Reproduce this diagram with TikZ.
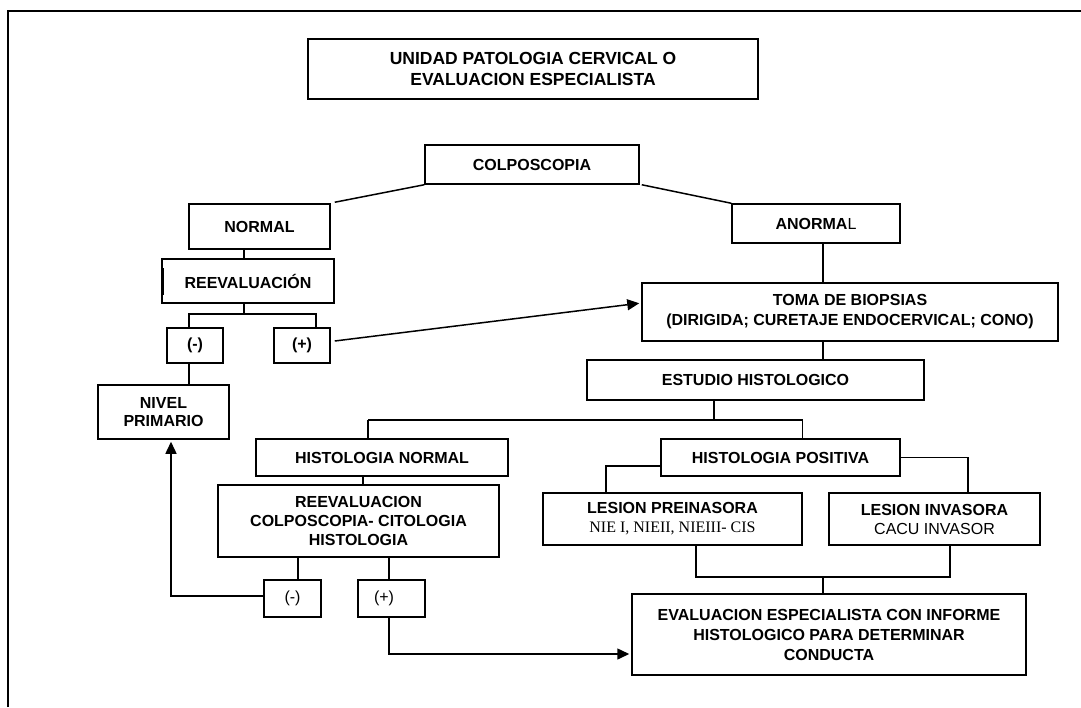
\documentclass[tikz,border=0pt]{standalone}
\usepackage{fontspec}
\setmainfont{Liberation Sans}
\newfontfamily\niefont{Liberation Serif}
\usetikzlibrary{arrows.meta}
\begin{document}
\begin{tikzpicture}[x=1pt,y=-1pt,
  box/.style={draw,line width=1.5pt,inner sep=0pt,align=center,
    font=\fontsize{16}{20}\selectfont\bfseries},
  conn/.style={line width=1.5pt},
  arr/.style={line width=1.5pt,-{Triangle[length=12pt,width=11pt]},shorten >=2pt}]
\useasboundingbox (0,0) rectangle (1081,707);
% frame
\draw[line width=1.5pt] (8,707) -- (8,11) -- (1081,11);

% nodes
\node[box,minimum width=450,minimum height=60,font=\fontsize{17.5}{21}\selectfont\bfseries] (title) at (533,69)
  {UNIDAD PATOLOGIA CERVICAL O\\EVALUACION ESPECIALISTA};
\node[box,minimum width=214,minimum height=39] (colp) at (532,164.5) {COLPOSCOPIA};
\node[box,minimum width=141,minimum height=45] (normal) at (259.5,226.5) {NORMAL};
\node[box,minimum width=168,minimum height=39] (anormal) at (816,223.5) {ANORMA\textmd{L}};
\node[box,minimum width=172,minimum height=44] (reeval) at (248,281) {REEVALUACIÓN};
\node[box,minimum width=56,minimum height=35] (minus1) at (195,345.5) {(-)};
\node[box,minimum width=56,minimum height=35] (plus1) at (302,345.5) {(+)};
\node[box,minimum width=131,minimum height=54,font=\fontsize{16}{18}\selectfont\bfseries] (nivel) at (163.5,412)
  {NIVEL\\PRIMARIO};
\node[box,minimum width=416,minimum height=58] (toma) at (850,312)
  {TOMA DE BIOPSIAS\\(DIRIGIDA; CURETAJE ENDOCERVICAL; CONO)};
\node[box,minimum width=337,minimum height=40] (estudio) at (755.5,380)
  {ESTUDIO HISTOLOGICO};
\node[box,minimum width=252,minimum height=37] (hn) at (382,457.5) {HISTOLOGIA NORMAL};
\node[box,minimum width=239,minimum height=37] (hp) at (780.5,457.5) {HISTOLOGIA POSITIVA};
\node[box,minimum width=281,minimum height=72,font=\fontsize{16}{19}\selectfont\bfseries] (reeval2) at (358.5,521)
  {REEVALUACION\\COLPOSCOPIA- CITOLOGIA\\HISTOLOGIA};
\node[box,minimum width=57,minimum height=37,font=\fontsize{16}{19}\selectfont] (minus2) at (292.5,598.5) {(-)};
\node[box,minimum width=67,minimum height=37,font=\fontsize{16}{19}\selectfont] (plus2) at (391.5,598.5) {(+)\hspace*{15pt}};
\node[box,minimum width=259,minimum height=52,font=\fontsize{16}{19}\selectfont\bfseries] (lp) at (672.5,519)
  {LESION PREINASORA\\{\niefont\mdseries NIE I, NIEII, NIEIII- CIS}};
\node[box,minimum width=211,minimum height=52,font=\fontsize{16}{19}\selectfont\bfseries] (li) at (934.5,519)
  {LESION INVASORA\\{\mdseries CACU INVASOR}};
\node[box,minimum width=394,minimum height=81] (eval) at (829,634.5)
  {EVALUACION ESPECIALISTA CON INFORME\\HISTOLOGICO PARA DETERMINAR\\CONDUCTA};

% reference coordinates
\coordinate (ax) at (823,0);
\coordinate (fork1) at (244,314);
\coordinate (fork2) at (714,420);
\coordinate (join) at (823,577);

% connectors
\draw[conn] (colp.south west) -- ([xshift=4pt,yshift=1pt]normal.north east);
\draw[conn] ([xshift=2pt]colp.south east) -- (anormal.north west);
\draw[conn] ([xshift=-15.5pt]normal.south) -- ([xshift=-4pt]reeval.north);
\draw[line width=2.5pt] ([xshift=1.5pt,yshift=13pt]reeval.west) -- ([xshift=1.5pt,yshift=-14pt]reeval.west);
\draw[conn] ([xshift=-4pt]reeval.south) -- (fork1);
\draw[conn] ([xshift=-6pt]minus1.north) |- ([xshift=14pt]plus1.north |- fork1) -- ([xshift=14pt]plus1.north);
\draw[conn] ([xshift=-6pt]minus1.south) -- ([xshift=-6pt]minus1.south |- nivel.north);
\draw[arr] ([xshift=4pt,yshift=4.5pt]plus1.east) -- ([yshift=9pt]toma.west);
\draw[conn] (anormal.south -| ax) -- (toma.north -| ax);
\draw[conn] (toma.south -| ax) -- (estudio.north -| ax);
\draw[conn] (estudio.south -| fork2) -- (fork2);
\draw[conn] ([xshift=-14pt]hn.north |- fork2) -- ([xshift=22pt]hp.north |- fork2);
\draw[conn] ([xshift=-14pt]hn.north |- fork2) -- ([xshift=-14pt]hn.north);
\draw[conn] ([xshift=22pt]hp.north |- fork2) -- ([xshift=22pt]hp.north);
\draw[conn] ([xshift=-19pt]hn.south) -- ([xshift=-19pt]hn.south |- reeval2.north);
\draw[conn] (reeval2.south -| minus2.north) ++(5.5,0) -- ([xshift=5.5pt]minus2.north);
\draw[conn] ([xshift=-2.5pt]plus2.north |- reeval2.south) -- ([xshift=-2.5pt]plus2.north);
\draw[arr] ([yshift=2.5pt]minus2.west) -| ([xshift=7.5pt]nivel.south);
\draw[arr] ([xshift=-2.5pt]plus2.south) |- ([yshift=-19.5pt]eval.west);
\draw[conn] ([yshift=-8.5pt]hp.west) -| ([xshift=-66.5pt]lp.north);
\draw[conn] (hp.east) -| ([xshift=33.5pt]li.north);
\draw[conn] ([xshift=23.5pt]lp.south) |- (join) -| ([xshift=15.5pt]li.south);
\draw[conn] (join) -- (eval.north -| join);
\end{tikzpicture}
\end{document}
